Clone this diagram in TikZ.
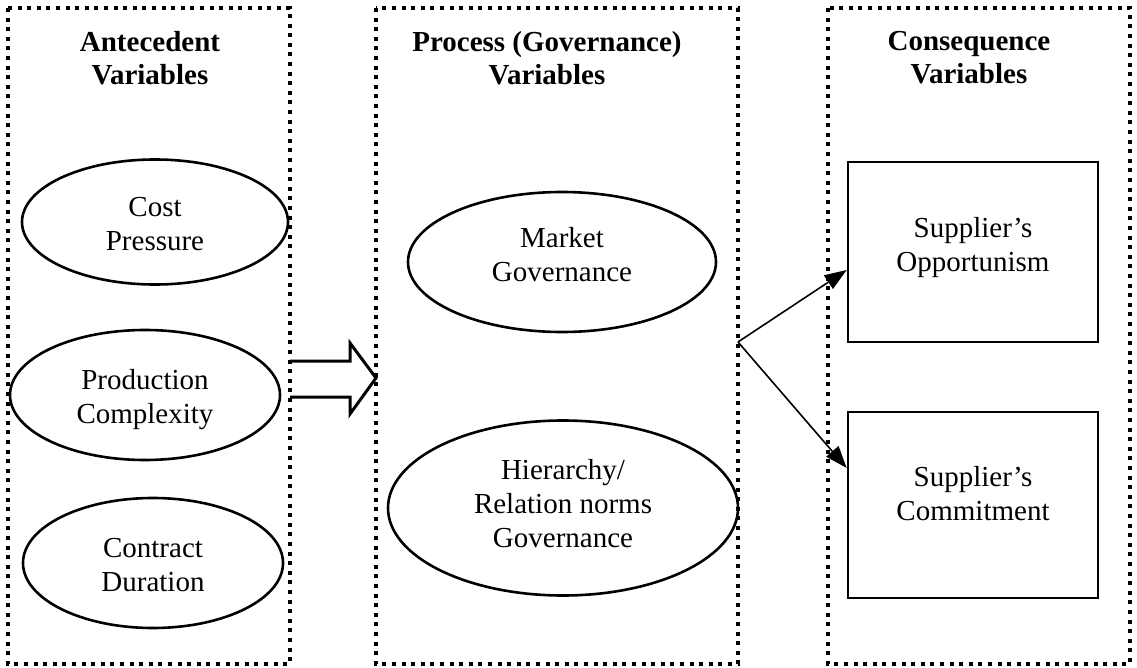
\documentclass[tikz,border=0pt]{standalone}
\usepackage{fontspec}
\setmainfont{Liberation Serif}
\usetikzlibrary{shapes.geometric,arrows.meta}
\begin{document}
\begin{tikzpicture}[x=1pt,y=-1pt,
  panel/.style={draw, line width=4pt, dash pattern=on 4pt off 5.6pt},
  oval/.style={draw, ellipse, line width=2.6pt, inner sep=0pt},
  boxnode/.style={draw, rectangle, line width=2.6pt, inner sep=0pt},
  lbl/.style={font=\fontsize{29}{34}\selectfont, align=center},
  ttl/.style={font=\fontsize{29}{33}\selectfont\bfseries, align=center},
  conn/.style={line width=1.6pt, -{Triangle[length=22pt,width=16pt]}}]
\useasboundingbox (0,0) rectangle (1137,668);
\draw[panel] (8,8) rectangle (290,664);
\draw[panel] (376,8) rectangle (738,664);
\draw[panel] (828,8) rectangle (1130,664);
\node[ttl] (t1) at (150,58) {Antecedent\\Variables};
\node[ttl] (t2) at (547,58) {Process (Governance)\\Variables};
\node[ttl] (t3) at (969,58) {Consequence\\Variables};
\node[oval, minimum width=266pt, minimum height=125pt] (cp) at (155,222) {};
\node[lbl] at ([yshift=-2pt]cp.center) {Cost\\Pressure};
\node[oval, minimum width=270pt, minimum height=130pt] (pc) at (145,395) {};
\node[lbl] at ([yshift=-5pt]pc.center) {Production\\Complexity};
\node[oval, minimum width=260pt, minimum height=130pt] (cd) at (153,563) {};
\node[lbl] at ([yshift=-2pt]cd.center) {Contract\\Duration};
\node[oval, minimum width=308pt, minimum height=140pt] (mg) at (562,262) {};
\node[lbl] at ([yshift=7pt]mg.center) {Market\\Governance};
\node[oval, minimum width=350pt, minimum height=175pt] (hg) at (563,508) {};
\node[lbl] at ([yshift=4pt]hg.center) {Hierarchy/\\Relation norms\\Governance};
\node[boxnode, minimum width=250pt, minimum height=180pt] (so) at (973,252) {};
\node[lbl] at ([yshift=4pt]so.center) {Supplier's\\Opportunism};
\node[boxnode, minimum width=250pt, minimum height=186pt] (sc) at (973,505) {};
\node[lbl] at ([yshift=11pt]sc.center) {Supplier's\\Commitment};
\coordinate (src) at (738,342);
\draw[conn] (src) -- (so.west |- 0,270);
\draw[conn] (src) -- (sc.west |- 0,468);
\draw[line width=3pt, line join=miter] (290,361) -- (350,361) -- (350,343) -- (376,378) -- (350,414) -- (350,397) -- (290,397);
\end{tikzpicture}
\end{document}
